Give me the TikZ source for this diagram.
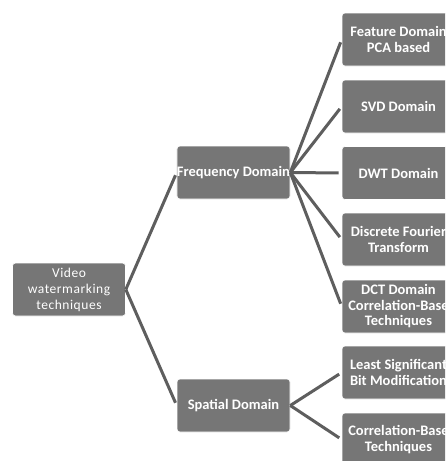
\documentclass[tikz,border=0pt]{standalone}
\usepackage{fontspec}
\setmainfont{Carlito}
\newfontfamily\rootfont{Carlito}[LetterSpace=4]
\definecolor{boxgray}{HTML}{767676}
\definecolor{linkgray}{HTML}{5E5E5E}
\tikzset{
  box/.style={draw=white,line width=0.6pt,fill=boxgray,rounded corners=3pt,
    minimum width=113pt,minimum height=53pt,inner sep=0pt,align=center,
    text=white,font=\fontsize{14.5}{15.5}\selectfont\bfseries},
  rootbox/.style={box,font=\fontsize{13.5}{16}\selectfont\rootfont},
  link/.style={draw=linkgray,line width=3pt,shorten >=3pt}
}
\begin{document}
\begin{tikzpicture}[x=1pt,y=-1pt,line join=round]
  \clip (0,0) rectangle (445,461);
  \fill[white] (0,0) rectangle (445,461);
  % three columns
  \node[rootbox] (vw) at (69,289.5) {Video\\watermarking\\techniques};
  \node[box] (freq) at (233.5,172.5) {Frequency Domain};
  \node[box] (spat) at (233.5,405.5) {Spatial Domain};
  \node[box] (pca) at (398.5,39.5) {Feature Domain\\PCA based};
  \node[box] (svd) at (398.5,106.5) {SVD Domain};
  \node[box] (dwt) at (398.5,173) {DWT Domain};
  \node[box] (dft) at (398.5,239.5) {Discrete Fourier\\Transform};
  \node[box] (dct) at (398.5,306.5) {DCT Domain\\Correlation-Base\\Techniques};
  \node[box] (lsb) at (398.5,372.5) {Least Significant\\Bit Modification};
  \node[box] (corr) at (398.5,439.5) {Correlation-Base\\Techniques};
  % connectors
  \foreach \a/\b in {vw/freq,vw/spat,freq/pca,freq/svd,freq/dwt,freq/dft,freq/dct,spat/lsb,spat/corr}
    \draw[link] (\a.east) -- (\b.west);
\end{tikzpicture}
\end{document}
